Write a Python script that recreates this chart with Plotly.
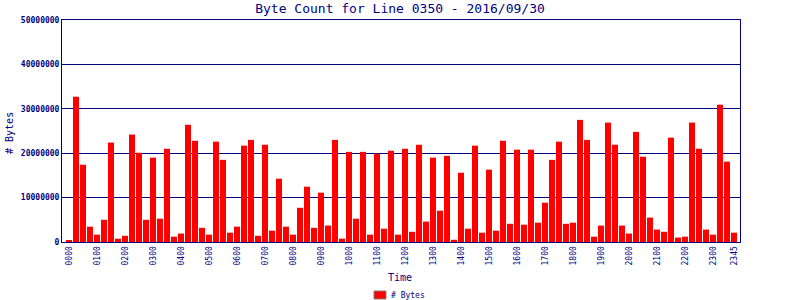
import plotly.graph_objects as go

times = [f"{h:02d}{m:02d}" for h in range(24) for m in (0, 15, 30, 45)]

byte_counts = [
    0.3, 32.7, 17.4, 3.45, 1.65, 5.0, 22.4, 0.75,
    1.4, 24.2, 20.1, 5.0, 19.0, 5.25, 21.0, 1.2,
    1.9, 26.4, 22.8, 3.2, 1.65, 22.6, 18.5, 2.1,
    3.45, 21.7, 23.0, 1.4, 21.9, 2.55, 14.25, 3.45,
    1.65, 7.7, 12.45, 3.2, 11.1, 3.7, 23.0, 0.75,
    20.3, 5.25, 20.3, 1.65, 19.9, 3.0, 20.55, 1.65,
    21.0, 2.3, 21.9, 4.6, 19.0, 7.05, 19.4, 0.5,
    15.6, 3.0, 21.7, 2.1, 16.3, 2.55, 22.8, 4.1,
    20.8, 3.9, 20.8, 4.35, 8.85, 18.5, 22.6, 4.1,
    4.35, 27.5, 23.0, 1.2, 3.7, 26.9, 21.9, 3.7,
    1.9, 24.8, 19.2, 5.5, 2.8, 2.3, 23.5, 1.0,
    1.2, 26.9, 21.0, 2.8, 1.65, 30.9, 18.1, 2.1,
]
byte_counts = [v * 1_000_000 for v in byte_counts]

tick_labels = [f"{h:02d}00" for h in range(24)] + ["2345"]
y_ticks = [0, 10000000, 20000000, 30000000, 40000000, 50000000]

NAVY = "#000080"
FONT = "DejaVu Sans Mono"

fig = go.Figure()
fig.add_trace(go.Bar(
    x=times, y=byte_counts, name="# Bytes",
    marker=dict(color="#FF0000", line=dict(width=0)),
    showlegend=False,
))

fig.update_layout(
    width=800, height=300,
    margin=dict(l=62, r=60, t=20, b=58, autoexpand=False),
    paper_bgcolor="white", plot_bgcolor="white",
    font=dict(family=FONT, color=NAVY),
    title=dict(text="Byte Count for Line 0350 - 2016/09/30",
               font=dict(family=FONT, size=13, color=NAVY),
               x=0.5, xanchor="center", y=0.972, yanchor="middle"),
    bargap=0.14,
)

fig.update_xaxes(
    type="category", categoryorder="array", categoryarray=times,
    tickmode="array", tickvals=tick_labels, ticktext=tick_labels,
    tickangle=-90, tickfont=dict(family=FONT, size=8, color=NAVY),
    range=[-1, 95.86], automargin=False,
    showline=True, linecolor=NAVY, linewidth=1, mirror=True,
    showgrid=False, ticks="",
)
fig.update_yaxes(
    range=[0, 50000000], tickmode="array", tickvals=y_ticks,
    ticktext=[f"<b>{v}</b>" for v in y_ticks], automargin=False,
    tickfont=dict(family=FONT, size=8, color=NAVY),
    showline=True, linecolor=NAVY, linewidth=1, mirror=True,
    showgrid=True, gridcolor=NAVY, gridwidth=1, zeroline=False, ticks="",
)

# axis titles
fig.add_annotation(text="Time", xref="paper", yref="paper", x=0.4985, y=-0.158,
                   showarrow=False, xanchor="center", yanchor="middle",
                   font=dict(family=FONT, size=10, color=NAVY))
fig.add_annotation(text="# Bytes", xref="paper", yref="paper", x=-0.0767, y=0.491,
                   showarrow=False, xanchor="center", yanchor="middle", textangle=-90,
                   font=dict(family=FONT, size=10, color=NAVY))

# legend key
fig.add_shape(type="rect", xref="paper", yref="paper",
              x0=(374 - 62) / 678, x1=(386 - 62) / 678,
              y0=(242 - 299) / 222, y1=(242 - 291) / 222,
              fillcolor="#FF0000", line=dict(color="#808080", width=1))
fig.add_annotation(text="# Bytes", xref="paper", yref="paper",
                   x=(389 - 62) / 678, y=(242 - 295) / 222,
                   showarrow=False, xanchor="left", yanchor="middle",
                   font=dict(family=FONT, size=8, color=NAVY))

fig.write_html("out.html")
